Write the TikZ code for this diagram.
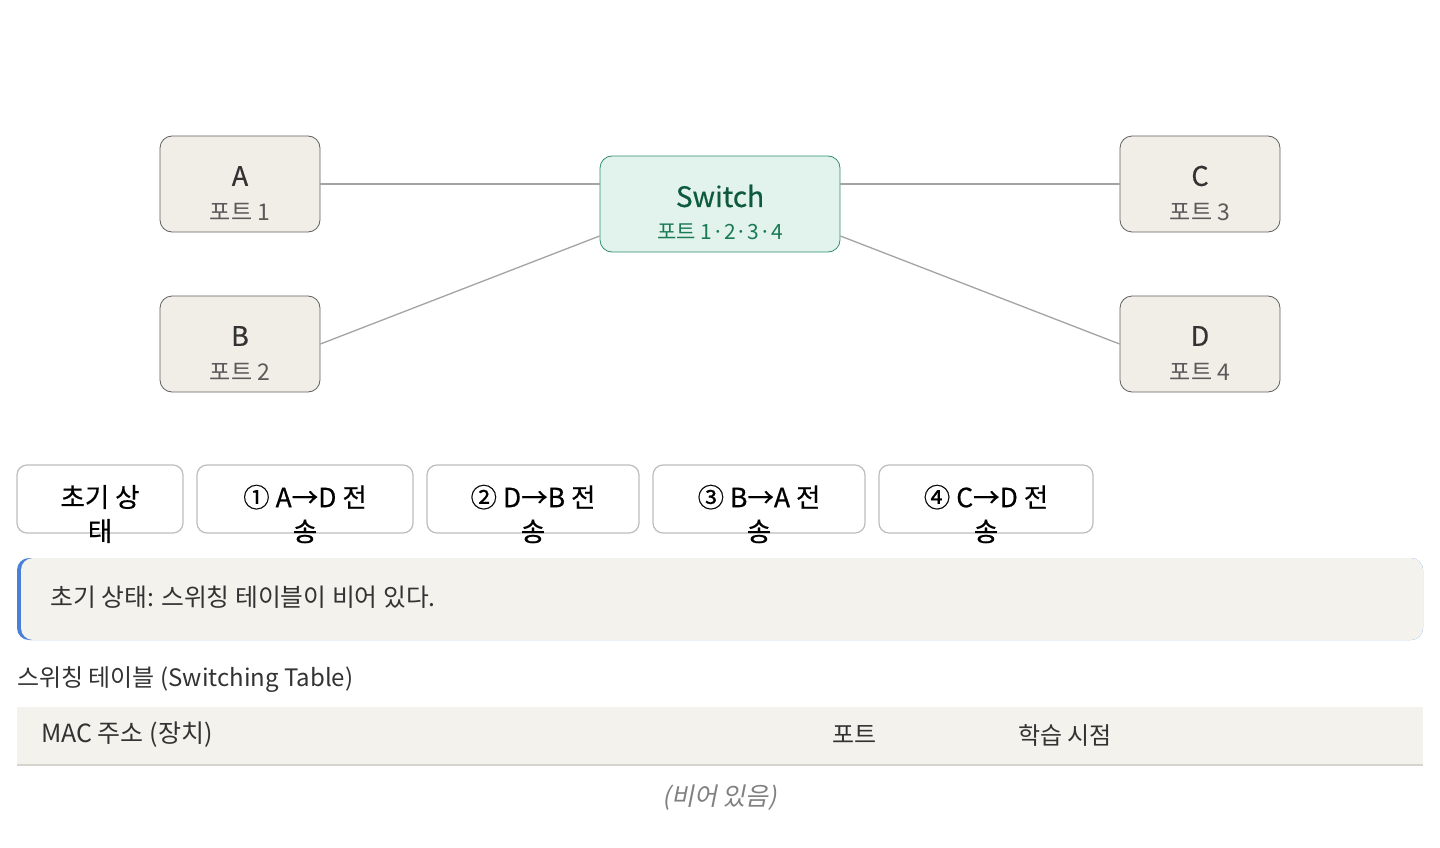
\documentclass[tikz,border=0pt]{standalone}
\usepackage{fontspec}
\setmainfont{Noto Sans CJK KR}[BoldFont={Noto Sans CJK KR}, BoldFeatures={FakeBold=0.5}]
\newfontfamily\krit[FakeSlant=0.2]{Noto Sans CJK KR}

\definecolor{hostfill}{HTML}{F1EEE8}
\definecolor{hostline}{HTML}{5E5E5E}
\definecolor{swfill}{HTML}{E1F3EC}
\definecolor{swline}{HTML}{2F8F6E}
\definecolor{swtext}{HTML}{0E5A3F}
\definecolor{swport}{HTML}{1B7A56}
\definecolor{wire}{HTML}{A3A3A3}
\definecolor{btnline}{HTML}{BDBDBD}
\definecolor{panel}{HTML}{F3F2EC}
\definecolor{rule}{HTML}{D6D4CD}
\definecolor{accent}{HTML}{4A80D6}
\definecolor{ink}{HTML}{333333}
\definecolor{soft}{HTML}{5A5A5A}

\tikzset{
  host/.style={shape=rectangle, draw=hostline, fill=hostfill, rounded corners=12pt,
    minimum width=160pt, minimum height=96pt, line width=0.8pt},
  hostname/.style={text=ink, font=\fontsize{27}{30}\selectfont\bfseries},
  hostport/.style={text=soft, font=\fontsize{23}{26}\selectfont},
  btnbox/.style={shape=rectangle, draw=btnline, fill=white, rounded corners=10pt,
    minimum height=68pt, line width=1.2pt},
  btntext/.style={text=black, align=center, font=\fontsize{26.5}{34}\selectfont\bfseries},
  wireline/.style={draw=wire, line width=1.3pt},
  plaintext/.style={anchor=west, inner sep=0pt, text=ink, font=\fontsize{24}{28}\selectfont}
}

\begin{document}
\begin{tikzpicture}[x=1pt,y=-1pt]
\useasboundingbox (0,0) rectangle (1440,848);

% network
\node (A) at (240,184) [host] {};
\node (B) at (240,344) [host] {};
\node (C) at (1200,184) [host] {};
\node (D) at (1200,344) [host] {};
\node (sw) at (720,204) [shape=rectangle, draw=swline, fill=swfill, rounded corners=12pt,
  minimum width=240pt, minimum height=96pt, line width=0.8pt] {};

\node (Aname) at ([yshift=8pt]A.center) [hostname] {A};
\node (Aport) at ([yshift=-28pt]A.center) [hostport] {포트 1};
\node (Bname) at ([yshift=8pt]B.center) [hostname] {B};
\node (Bport) at ([yshift=-28pt]B.center) [hostport] {포트 2};
\node (Cname) at ([yshift=8pt]C.center) [hostname] {C};
\node (Cport) at ([yshift=-28pt]C.center) [hostport] {포트 3};
\node (Dname) at ([yshift=8pt]D.center) [hostname] {D};
\node (Dport) at ([yshift=-28pt]D.center) [hostport] {포트 4};
\node (swname) at ([yshift=8pt]sw.center) [text=swtext, font=\fontsize{28}{30}\selectfont\bfseries] {Switch};
\node (swport) at ([yshift=-28pt]sw.center) [text=swport, font=\fontsize{21}{26}\selectfont] {포트 1·2·3·4};

\draw [wireline] (A.east) -- (A.east -| sw.west);
\draw [wireline] (C.west) -- (C.west -| sw.east);
\draw [wireline] (B.east) -- ([yshift=-32pt]sw.west);
\draw [wireline] (D.west) -- ([yshift=-32pt]sw.east);

% step buttons
\node (b0) at (100,499) [btnbox, minimum width=166pt] {};
\node (b1) at (305,499) [btnbox, minimum width=216pt] {};
\node (b2) at (533,499) [btnbox, minimum width=212pt] {};
\node (b3) at (759,499) [btnbox, minimum width=212pt] {};
\node (b4) at (986,499) [btnbox, minimum width=214pt] {};
\node (b0t) at ([yshift=-15pt]b0.center) [btntext] {초기 상\\태};
\node (b1t) at ([yshift=-15pt]b1.center) [btntext] {① A→D 전\\송};
\node (b2t) at ([yshift=-15pt]b2.center) [btntext] {② D→B 전\\송};
\node (b3t) at ([yshift=-15pt]b3.center) [btntext] {③ B→A 전\\송};
\node (b4t) at ([yshift=-15pt]b4.center) [btntext] {④ C→D 전\\송};

% status panel
\fill [accent, rounded corners=12pt] (17,558) rectangle (1423,640);
\fill [panel, rounded corners=12pt] (21,558) rectangle (1423,640);
\node (msg) at (50,597) [plaintext, font=\fontsize{24.8}{28}\selectfont]
  {초기 상태: 스위칭 테이블이 비어 있다.};

% switching table
\node (ttitle) at (17,680) [plaintext] {스위칭 테이블 (Switching Table)};
\fill [panel] (17,707) rectangle (1423,765);
\draw [rule, line width=2pt] (17,765) -- (1423,765);
\node (hmac) at (41,735) [plaintext, font=\fontsize{25}{28}\selectfont] {MAC 주소 (장치)};
\node (hport) at (832,735) [plaintext] {포트};
\node (htime) at (1018,735) [plaintext] {학습 시점};
\node (empty) at (720,798) [text=gray, font=\krit\fontsize{25}{28}\selectfont] {(비어 있음)};
\end{tikzpicture}
\end{document}
